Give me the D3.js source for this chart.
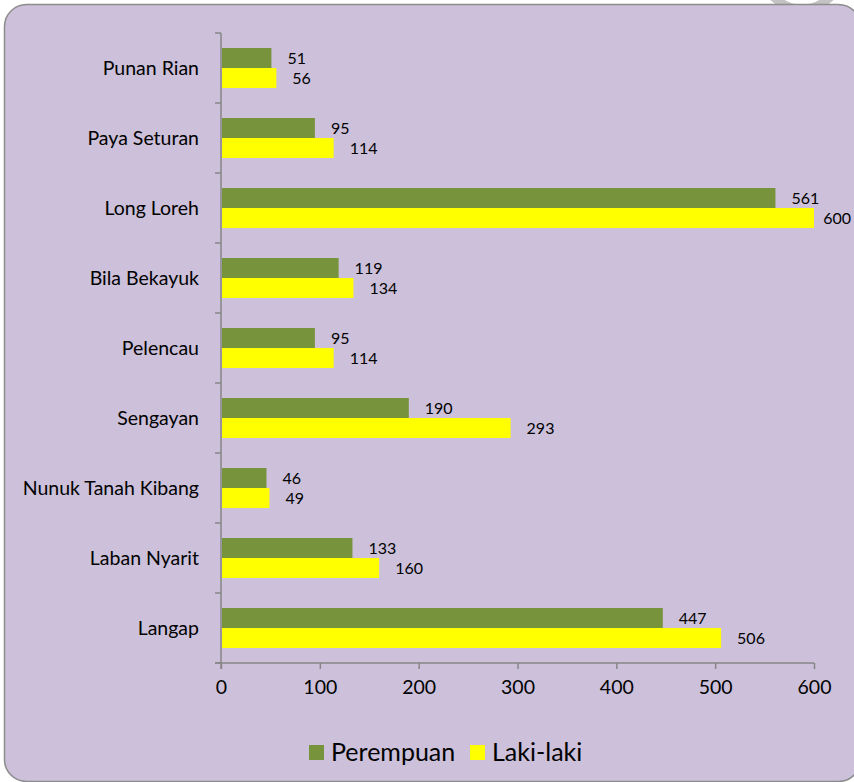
<!DOCTYPE html>
<html><head><meta charset="utf-8">
<script src="https://cdn.jsdelivr.net/npm/d3@7/dist/d3.min.js"></script>
<style>html,body{margin:0;padding:0;background:#fff;}svg{display:block;}</style>
</head><body>
<script>
const categories = ["Punan Rian","Paya Seturan","Long Loreh","Bila Bekayuk","Pelencau","Sengayan","Nunuk Tanah Kibang","Laban Nyarit","Langap"];
const perempuan = [51,95,561,119,95,190,46,133,447];
const lakilaki = [56,114,600,134,114,293,49,160,506];
const seriesNames = ["Perempuan","Laki-laki"];
const seriesColors = ["#77933c","#ffff00"];
const xTicks = [0,100,200,300,400,500,600];

(function(){
const W=854,H=782;
const font = "Lato, 'Open Sans', sans-serif";
const svg = d3.select("body").append("svg").attr("width",W).attr("height",H);

// decorative grey ring partly visible at top
svg.append("circle").attr("cx",802).attr("cy",-30).attr("r",39)
  .attr("fill","none").attr("stroke","#c3c3c3").attr("stroke-width",9);

svg.append("rect").attr("x",4.5).attr("y",4.5).attr("width",856).attr("height",777).attr("rx",22)
  .attr("fill","#ccc0da").attr("stroke","#8c8c8c").attr("stroke-width",1.5);

const pL=221,pR=814,pT=33,pB=663;
const x = d3.scaleLinear().domain([0,600]).range([pL,pR]);
const y = d3.scaleBand().domain(categories).range([pT,pB]);
const bh = 20;

// axes
const gx = svg.append("g").attr("transform",`translate(0,${pB})`)
  .call(d3.axisBottom(x).tickValues(xTicks).tickSize(6).tickPadding(11));
gx.select(".domain").attr("stroke","#868686").attr("stroke-width",1.5).attr("d",`M${pL-6},0H${pR}`);
gx.selectAll(".tick line").attr("stroke","#868686").attr("stroke-width",1.5);
gx.selectAll(".tick text").attr("font-family",font).attr("font-size",19.5).attr("fill","#000");

const gy = svg.append("g").attr("transform",`translate(${pL},0)`);
gy.append("line").attr("x1",0).attr("x2",0).attr("y1",pT).attr("y2",pB+6).attr("stroke","#868686").attr("stroke-width",1.5);
const bounds = categories.map(c=>y(c)).concat([pB]);
gy.selectAll(".yt").data(bounds).join("line").attr("x1",-6).attr("x2",0)
  .attr("y1",d=>d).attr("y2",d=>d).attr("stroke","#868686").attr("stroke-width",1.5);
gy.selectAll(".yl").data(categories).join("text")
  .attr("x",-22).attr("y",d=>y(d)+y.bandwidth()/2).attr("dy","0.35em")
  .attr("text-anchor","end").attr("font-family",font).attr("font-size",19.5).attr("fill","#000").text(d=>d);

const series=[perempuan,lakilaki];
series.forEach((vals,si)=>{
  const g = svg.append("g");
  g.selectAll("rect").data(vals).join("rect")
    .attr("x",x(0)+1).attr("y",(d,i)=>y(categories[i])+y.bandwidth()/2-bh+si*bh)
    .attr("width",d=>x(d)-x(0)-1).attr("height",bh).attr("fill",seriesColors[si]);
  g.selectAll("text").data(vals).join("text")
    .attr("y",(d,i)=>y(categories[i])+y.bandwidth()/2-bh/2+si*bh).attr("dy","0.35em")
    .attr("font-family",font).attr("font-size",16).attr("fill","#000").text(d=>d)
    .each(function(d){
      const w=this.getComputedTextLength();
      d3.select(this).attr("x",Math.min(x(d)+16,851-w));
    });
});

// legend
const lg = svg.append("g");
const lx=[309,470];
seriesNames.forEach((n,i)=>{
  lg.append("rect").attr("x",lx[i]).attr("y",745).attr("width",15).attr("height",15).attr("fill",seriesColors[i]);
  lg.append("text").attr("x",lx[i]+22).attr("y",752.5).attr("dy","0.35em")
    .attr("font-family",font).attr("font-size",25).attr("fill","#000").text(n);
});
})();
</script>
</body></html>
